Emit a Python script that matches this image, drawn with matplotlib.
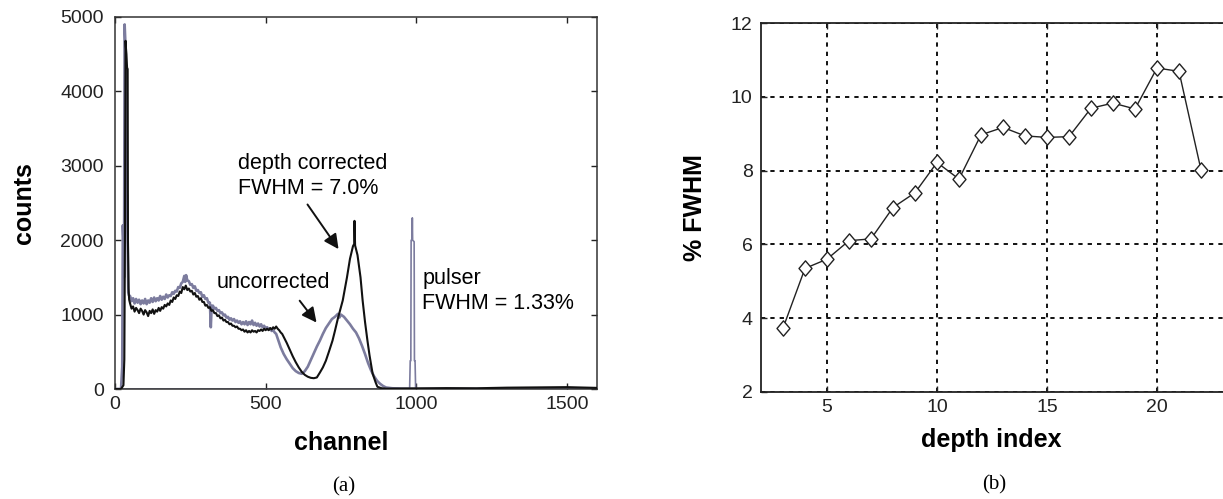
import matplotlib
matplotlib.use("Agg")
import matplotlib.pyplot as plt
from matplotlib.path import Path

plt.rcParams['font.family'] = ['Liberation Sans', 'DejaVu Sans']

# ---------------- data: panel (a) spectra ----------------
corr_ch = [0, 20, 28, 31, 33, 35, 36, 38, 40, 42, 43, 45, 47,
           50, 55, 60, 65, 70, 75, 80, 85, 90, 95, 100, 105, 110, 115, 120, 125,
           130, 135, 140, 145, 150, 155, 160, 165, 170, 175, 180, 185, 190, 195,
           200, 205, 210, 215, 220, 225, 230, 235, 240, 245, 250, 255, 260, 265,
           270, 275, 280, 285, 290, 295, 300, 305, 310, 315, 320, 325, 330, 335,
           340, 345, 350, 355, 360, 365, 370, 375, 380, 385, 390, 395, 400, 405,
           410, 415, 420, 425, 430, 435, 440, 445, 450, 455, 460, 465, 470, 475,
           480, 485, 490, 495, 500, 505, 510, 515, 520, 525, 530, 535, 540, 545,
           550, 555, 560, 570, 580, 590, 600, 610,
           620, 630, 640, 650, 660, 670, 680, 690, 700, 710, 722, 730, 740, 756,
           770, 780, 790, 794, 795, 797, 800, 805, 815, 822, 830, 838, 845, 855,
           865, 871, 885, 900, 1000, 1100, 1200, 1300, 1400, 1500, 1600]
corr_counts = [0, 0, 50, 400, 2000, 4680, 4600, 4500, 4320, 4300, 2000, 1350, 1200,
               1150, 1080, 1110, 1040, 1090, 1060, 1020, 1080, 1050, 1000, 1060, 1030, 980, 1050, 1020, 1070,
               1010, 1060, 1040, 1090, 1050, 1100, 1080, 1130, 1110, 1150, 1130, 1190, 1170, 1230,
               1210, 1260, 1250, 1310, 1290, 1370, 1340, 1390, 1330, 1350, 1310, 1320, 1270, 1290,
               1240, 1250, 1200, 1220, 1170, 1170, 1120, 1130, 1090, 1100, 1050, 1060, 1020, 1020,
               980, 990, 950, 960, 920, 930, 900, 900, 870, 880, 850, 850, 830, 840,
               810, 810, 790, 800, 770, 790, 760, 780, 760, 790, 770, 780, 760, 790,
               780, 800, 780, 810, 790, 810, 790, 820, 800, 830, 810, 840, 810, 790,
               760, 740, 700, 620, 530, 440, 360, 290,
               230, 190, 165, 150, 145, 155, 220, 290, 380, 500, 650, 780, 950, 1190,
               1500, 1750, 1920, 1950, 2260, 1930, 1880, 1800, 1500, 1190, 900, 650, 450, 210,
               90, 30, 10, 5, 8, 12, 10, 18, 22, 25, 15]

unc_ch = [0, 20, 24, 26, 28, 30, 32, 34, 36, 38, 40, 42, 44, 46,
          50, 55, 60, 65, 70, 75, 80, 85, 90, 95, 100, 105, 110, 115, 120, 125,
          130, 135, 140, 145, 150, 155, 160, 165, 170, 175, 180, 185, 190, 195,
          200, 205, 210, 215, 220, 225, 230, 233, 236, 240, 245, 250, 255, 260, 265,
          270, 275, 280, 285, 290, 295, 300, 305, 310, 315, 318, 321, 325, 330, 335,
          340, 345, 350, 355, 360, 365, 370, 375, 380, 385, 390, 395, 400, 405,
          410, 415, 420, 425, 430, 435, 440, 445, 450, 455, 460, 465, 470, 475,
          480, 485, 490, 495, 500, 505, 510, 515, 520, 525, 530, 535, 540, 545,
          550, 560, 570, 580,
          590, 600, 610, 620, 630, 640, 650, 660, 670, 680, 690, 700, 710, 720,
          730, 740, 745, 750, 760, 770, 780, 790, 800, 810, 820, 830, 840, 850,
          860, 870, 880, 890, 900, 920, 950, 1000, 1600]
unc_counts = [0, 0, 300, 2200, 2000, 1500, 4900, 4700, 2600, 2630, 2600, 2000, 1300, 1260,
              1250, 1180, 1220, 1150, 1210, 1160, 1200, 1140, 1190, 1150, 1210, 1140, 1190, 1160, 1220, 1170,
              1230, 1180, 1220, 1190, 1250, 1200, 1240, 1210, 1270, 1230, 1260, 1250, 1300, 1280,
              1320, 1310, 1370, 1360, 1420, 1440, 1520, 1440, 1530, 1460, 1450, 1400, 1410, 1360, 1380,
              1320, 1330, 1290, 1300, 1240, 1260, 1210, 1220, 1160, 1160, 830, 1120, 1120, 1080, 1090,
              1050, 1060, 1020, 1030, 990, 1000, 960, 970, 930, 950, 920, 940, 900, 920,
              890, 910, 870, 900, 870, 910, 860, 900, 870, 920, 860, 890, 850, 880,
              840, 870, 830, 850, 810, 830, 800, 810, 780, 790, 760, 740, 680, 620,
              560, 470, 400, 340,
              280, 240, 215, 205, 240, 300, 390, 480, 570, 650, 740, 820, 880, 940,
              970, 1010, 960, 1000, 970, 920, 870, 810, 760, 680, 580, 470, 350, 250,
              170, 110, 70, 40, 20, 10, 5, 0, 0]

pulser_ch = [0, 978, 980, 982, 983, 986, 987, 988, 993, 994, 996, 998, 1600]
pulser_counts = [0, 0, 380, 380, 2000, 2000, 2300, 2000, 1980, 380, 380, 0, 0]

# ---------------- data: panel (b) ----------------
depth_index = [3, 4, 5, 6, 7, 8, 9, 10, 11, 12, 13, 14, 15, 16, 17, 18, 19, 20, 21, 22]
fwhm_pct = [3.73, 5.35, 5.6, 6.1, 6.15, 7.0, 7.4, 8.22, 7.77, 8.97, 9.17, 8.94,
            8.9, 8.92, 9.69, 9.83, 9.67, 10.78, 10.69, 8.02]

# ---------------- figure ----------------
W, H = 1223, 499
fig = plt.figure(figsize=(W / 100, H / 100), dpi=100)

def fx(px):
    return px / W

def fy(py):
    return 1 - py / H

GREY = '#7c7c9e'

# panel (a)
axa = fig.add_axes([fx(115), fy(389), fx(597) - fx(115), fy(17) - fy(389)])
axa.plot(unc_ch, unc_counts, color=GREY, lw=1.9, zorder=2)
axa.plot(pulser_ch, pulser_counts, color=GREY, lw=1.2, zorder=2)
axa.plot(corr_ch, corr_counts, color='#111111', lw=1.5, zorder=3)
axa.set_xlim(0, 1600)
axa.set_ylim(0, 5000)
axa.set_xticks([0, 500, 1000, 1500])
axa.set_yticks([0, 1000, 2000, 3000, 4000, 5000])
axa.tick_params(direction='in', top=True, right=True, length=4, width=1,
                labelsize=14, colors='#222222')
axa.tick_params(axis='y', pad=8)
axa.tick_params(axis='x', pad=5)
for s in axa.spines.values():
    s.set_linewidth(1.1)
    s.set_color('#333333')

afs = 15.5
axa.text(407, 3027, 'depth corrected', fontsize=afs, va='center', ha='left')
axa.text(407, 2693, 'FWHM = 7.0%', fontsize=afs, va='center', ha='left')
axa.text(338, 1427, 'uncorrected', fontsize=afs, va='center', ha='left')
axa.text(1020, 1480, 'pulser', fontsize=afs, va='center', ha='left')
axa.text(1020, 1147, 'FWHM = 1.33%', fontsize=afs, va='center', ha='left')
ap = dict(arrowstyle='-|>', lw=1.4, color='#111111', mutation_scale=22,
          shrinkA=0, shrinkB=0)
axa.annotate('', xy=(742, 1880), xytext=(639, 2480), arrowprops=ap)
axa.annotate('', xy=(669, 893), xytext=(613, 1187), arrowprops=ap)

fig.text(fx(24), fy(203), 'counts', rotation=90, fontsize=18, fontweight='bold',
         ha='center', va='center')
fig.text(fx(341), fy(443), 'channel', fontsize=18, fontweight='bold',
         ha='center', va='center')
fig.text(fx(344), fy(487), '(a)', fontsize=15, family='Liberation Serif',
         ha='center', va='center')

# panel (b)
diamond = Path([(0, 1), (0.85, 0), (0, -1), (-0.85, 0), (0, 1)],
               [Path.MOVETO, Path.LINETO, Path.LINETO, Path.LINETO, Path.CLOSEPOLY])
axb = fig.add_axes([fx(761), fy(392), fx(761 + 23 * 22) - fx(761), fy(23) - fy(392)])
axb.plot(depth_index, fwhm_pct, color='#222222', lw=1.0, marker=diamond, ms=11,
         mfc='white', mec='#222222', mew=1.0, zorder=3)
axb.set_xlim(2, 25)
axb.set_ylim(2, 12)
axb.set_xticks([5, 10, 15, 20])
axb.set_yticks([2, 4, 6, 8, 10, 12])
axb.grid(True, color='#111111', linestyle=(0, (2.2, 2.6)), linewidth=1.4, zorder=1)
axb.set_axisbelow(True)
axb.tick_params(direction='in', top=True, right=True, length=4, width=1,
                labelsize=14, colors='#222222')
axb.tick_params(axis='y', pad=6)
axb.tick_params(axis='x', pad=5)
for s in axb.spines.values():
    s.set_linewidth(1.3)
    s.set_color('#222222')

fig.text(fx(695), fy(208), '% FWHM', rotation=90, fontsize=18, fontweight='bold',
         ha='center', va='center')
fig.text(fx(991), fy(440), 'depth index', fontsize=18, fontweight='bold',
         ha='center', va='center')
fig.text(fx(994), fy(485), '(b)', fontsize=15, family='Liberation Serif',
         ha='center', va='center')

fig.savefig('out.png', dpi=100)
